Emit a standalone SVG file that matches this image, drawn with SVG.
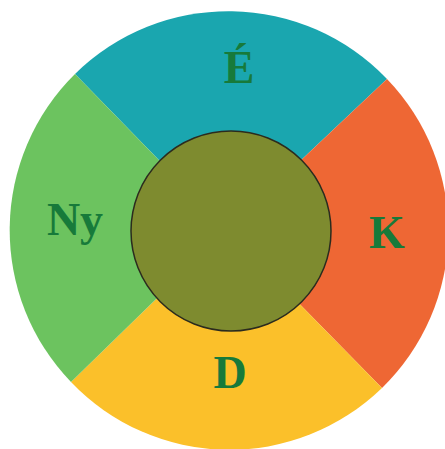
<svg xmlns="http://www.w3.org/2000/svg" width="445" height="449" viewBox="0 0 445 449">
<style>
.lbl{font-family:"Liberation Serif","Times New Roman",serif;font-weight:bold;font-size:46px;fill:#177a3a;text-anchor:middle}
</style>
<rect width="445" height="449" fill="#ffffff"/>
<g id="sector-north">
<path d="M227,230 L75,74 A219,219 0 0 1 387,79 Z" fill="#1aa6af"/>
<text class="lbl" x="239" y="83">É</text>
</g>
<g id="sector-east">
<path d="M227,230 L387,79 A219,219 0 0 1 382,388 Z" fill="#ee6734"/>
<text class="lbl" x="387" y="248">K</text>
</g>
<g id="sector-south">
<path d="M227,230 L382,388 A219,219 0 0 1 71,382 Z" fill="#fbc02a"/>
<text class="lbl" x="230" y="388">D</text>
</g>
<g id="sector-west">
<path d="M227,230 L71,382 A219,219 0 0 1 75,74 Z" fill="#6cc35f"/>
<text class="lbl" x="75" y="235">Ny</text>
</g>
<g id="center">
<circle cx="231" cy="231" r="100" fill="#7e8b2f" stroke="#2b2b1e" stroke-width="1.5"/>
</g>
</svg>
